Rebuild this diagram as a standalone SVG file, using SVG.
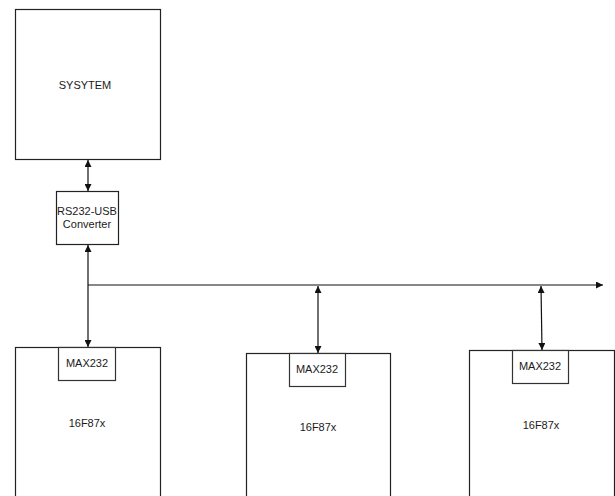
<svg xmlns="http://www.w3.org/2000/svg" width="615" height="496" viewBox="0 0 615 496">
<style>
.box{fill:#fff;stroke:#222;stroke-width:1.2}
.sub{fill:#fff;stroke:#333;stroke-width:1.2}
.t{font-family:"Liberation Sans",Arial,sans-serif;font-size:11px;fill:#1a1a1a;text-anchor:middle}
.c{stroke:#111;stroke-width:1.2;fill:none}
</style>
<defs>
<marker id="a" viewBox="0 0 10 10" refX="10" refY="5" markerWidth="7" markerHeight="7" orient="auto-start-reverse" markerUnits="userSpaceOnUse">
<path d="M0,0 L10,5 L0,10 z" fill="#111"/>
</marker>
</defs>
<rect width="615" height="496" fill="#fff"/>
<g id="system"><rect class="box" x="15.5" y="9.5" width="145" height="150"/><text class="t" x="85" y="89">SYSYTEM</text></g>
<g id="converter"><rect class="box" x="56.5" y="191.5" width="62" height="53"/><text class="t" x="87" y="215">RS232-USB</text><text class="t" x="87" y="228">Converter</text></g>
<g id="mcu1"><rect class="box" x="15.5" y="347.5" width="145" height="150"/><rect class="sub" x="58.5" y="347.5" width="57" height="33"/><text class="t" x="87" y="367">MAX232</text><text class="t" x="87" y="427">16F87x</text></g>
<g id="mcu2"><rect class="box" x="246.5" y="353.5" width="144" height="145"/><rect class="sub" x="289.5" y="353.5" width="56" height="33"/><text class="t" x="317" y="373">MAX232</text><text class="t" x="318" y="431">16F87x</text></g>
<g id="mcu3"><rect class="box" x="469.5" y="350.5" width="145" height="148"/><rect class="sub" x="512.5" y="350.5" width="56" height="33"/><text class="t" x="540" y="370">MAX232</text><text class="t" x="541" y="429">16F87x</text></g>
<g id="connectors">
<line class="c" x1="88" y1="160" x2="88" y2="191" marker-start="url(#a)" marker-end="url(#a)"/>
<line class="c" x1="88" y1="245" x2="88" y2="347" marker-start="url(#a)" marker-end="url(#a)"/>
<line class="c" x1="88" y1="285" x2="603" y2="285" marker-end="url(#a)"/>
<line class="c" x1="318" y1="286" x2="318" y2="353" marker-start="url(#a)" marker-end="url(#a)"/>
<line class="c" x1="541" y1="286" x2="542" y2="350" marker-start="url(#a)" marker-end="url(#a)"/>
</g>
</svg>
